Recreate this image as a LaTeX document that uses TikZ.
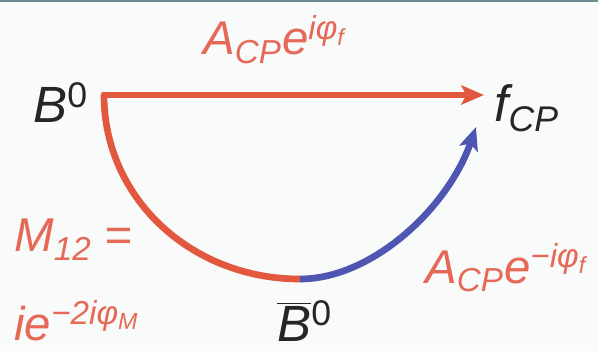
\documentclass[tikz,border=0pt]{standalone}
\usepackage{fontspec}
\setmainfont{Liberation Sans}
\usepackage{tikz}
\usetikzlibrary{arrows.meta}
\definecolor{mixred}{RGB}{226,88,62}
\definecolor{labelred}{RGB}{230,105,88}
\definecolor{mixblue}{RGB}{78,86,178}
\definecolor{framebar}{RGB}{110,140,145}
\definecolor{paper}{RGB}{249,250,250}

\begin{document}
\begin{tikzpicture}[x=0.02cm, y=-0.02cm, >={Stealth[length=13pt, width=11pt, inset=3pt]},
  state/.style={inner sep=0pt, font=\fontsize{29}{34}\selectfont\itshape, text=black!85},
  amp/.style={inner sep=0pt, font=\fontsize{27}{32}\selectfont\itshape, text=labelred},
  redline/.style={line width=3.8pt, mixred},
  blueline/.style={line width=3.8pt, mixblue},
]

% Frame
\fill[paper] (0,0) rectangle (598,351);
\fill[framebar] (0,0) rectangle (598,2);
\useasboundingbox (0,0) rectangle (598,351);

% States
\node[state, anchor=base west] (B0) at (33,123) {B\textsuperscript{\upshape 0}};
\node[state, anchor=base west] (fcp) at (494,122) {f\textsubscript{CP}};
\node[state, anchor=base west] (B0bar) at (277,341) {$\overline{\mbox{\itshape B}}$\textsuperscript{\upshape 0}};

% Path points
\coordinate (corner) at (104,95);
\coordinate (bottom) at (300,279);
\coordinate (tipf) at (484,95);
\coordinate (tipb) at (476,127);

% Arrows
\draw[redline, ->] (corner) -- (tipf);
\draw[redline, line cap=round] (corner) .. controls (104,198) and (191,279) .. (bottom);
\draw[blueline, ->] (bottom) .. controls (372,279) and (448,208) .. (tipb);

% Amplitudes
\node[amp, anchor=base west] (adir) at (203,55)
     {A\textsubscript{CP}e\textsuperscript{iφ\textsubscript{f}}};
\node[amp, anchor=base west] (amix) at (14,252) {M\textsubscript{12} =};
\node[amp, anchor=base west] (aphase) at (14,340) {ie\textsuperscript{−2iφ\textsubscript{M}}};
\node[amp, anchor=base west] (abar) at (425,283)
     {A\textsubscript{CP}e\textsuperscript{−iφ\textsubscript{f}}};

\end{tikzpicture}
\end{document}
